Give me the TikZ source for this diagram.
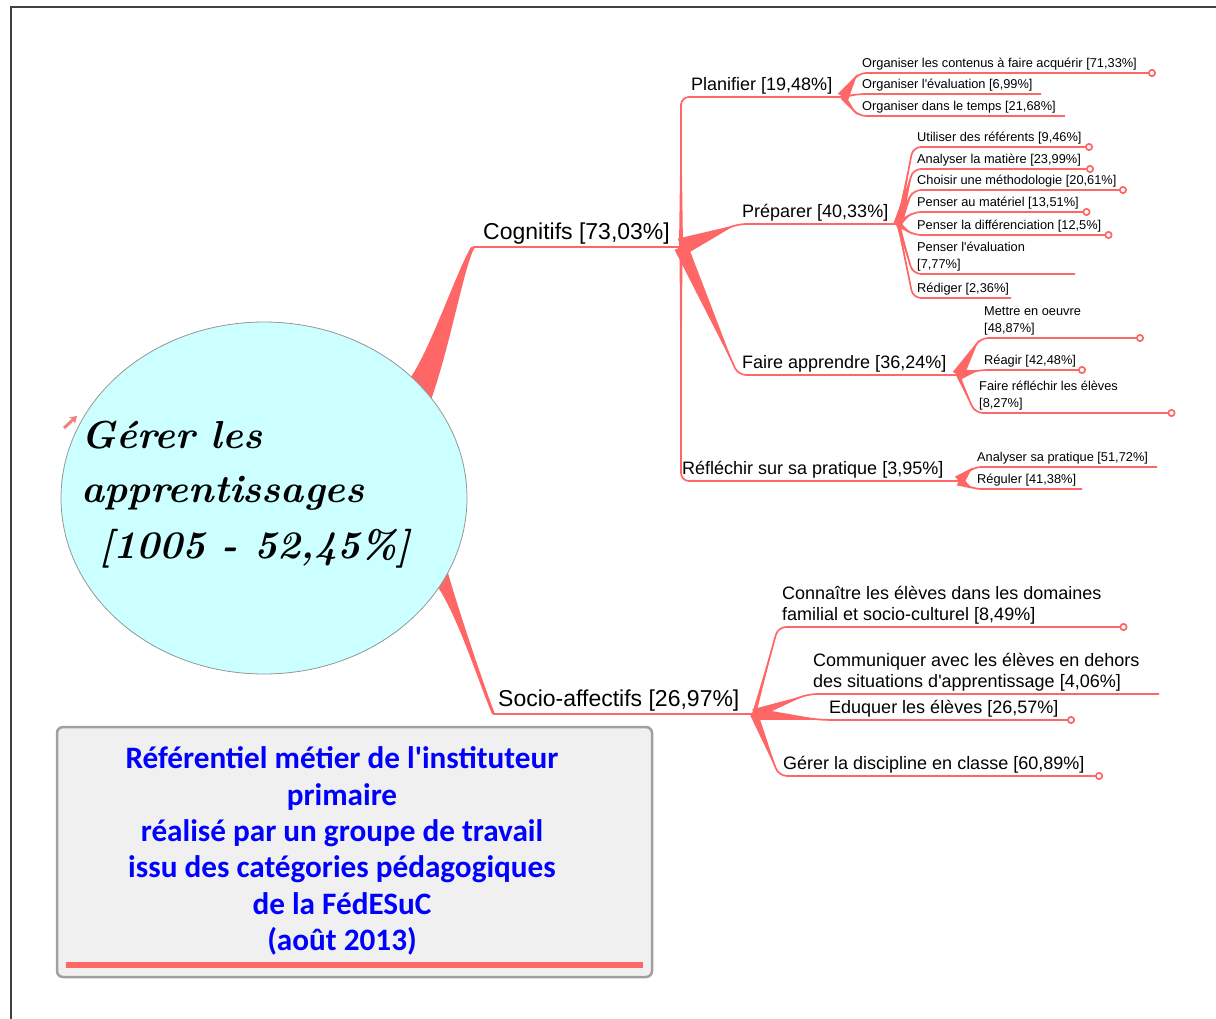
\documentclass[tikz,border=0pt]{standalone}
\usepackage{fontspec}
\newfontfamily\mapfont{Liberation Sans}
\newfontfamily\boxfont{Carlito}
\usepackage{tikz}
\usetikzlibrary{arrows.meta, calc, positioning, shapes.geometric, backgrounds}
\usepackage{xcolor}

\definecolor{mapred}{RGB}{255,102,102}
\definecolor{rootfill}{RGB}{204,255,255}
\definecolor{rootline}{RGB}{150,150,150}
\definecolor{boxfill}{RGB}{240,240,240}
\definecolor{boxline}{RGB}{160,160,160}
\definecolor{titleblue}{RGB}{0,0,255}
\definecolor{iconpink}{RGB}{240,128,128}

\tikzset{
  mainlbl/.style={anchor=south west, inner xsep=5pt, inner ysep=3pt, align=left,
    font=\mapfont\fontsize{23}{27}\selectfont},
  sublbl/.style={mainlbl, inner xsep=4pt, font=\mapfont\fontsize{18}{20.7}\selectfont},
  leaflbl/.style={mainlbl, inner xsep=4pt, font=\mapfont\fontsize{12.8}{17}\selectfont},
  rootlbl/.style={anchor=base west, font=\fontsize{39}{55}\selectfont\bfseries\itshape},
  mapline/.style={draw=mapred, line width=1.7pt, rounded corners=8pt},
  enddot/.style={-{Circle[open, length=8pt, width=8pt]}}
}

% tapered wedge: base at #1, pointing to #2, half width #3
\newcommand\mapwedge[3]{%
  \fill[mapred, line join=round] ($(#1)!#3!90:(#2)$) -- ($(#1)!0.95!(#2)$) -- ($(#1)!#3!-90:(#2)$) -- cycle;}

\begin{document}
\begin{tikzpicture}[x=1pt, y=-1pt]
  \useasboundingbox (0,0) rectangle (1216,1019);

  % Frame
  \draw[line width=1.5pt, black!75] (11,1019) -- (11,7) -- (1216,7);

  % Central topic
  \node[ellipse, draw=rootline, line width=0.8pt, fill=rootfill, minimum width=406pt,
    minimum height=352pt, inner sep=0pt] (root) at (264,498) {};
  \node[rootlbl] (ct1) at (78,448) {Gérer les};
  \node[rootlbl] (ct2) at (78,502) {apprentissages};
  \node[rootlbl] (ct3) at (96,558) {[1005 - 52,45\%]};
  \draw[iconpink, line width=3pt, -{Stealth[length=7pt, width=9pt]}] (64,428) -- (77,416);

  % Main branches
  \node[mainlbl, inner xsep=10pt] (cog) at (473,247) {Cognitifs [73,03\%]};
  \node[mainlbl] (soc) at (493,714) {Socio-affectifs [26,97\%]};
  \coordinate (cogJ) at (681,247);
  \coordinate (socJ) at (754,714);
  \coordinate (cogfoot) at (root.37);
  \coordinate (socfoot) at (root.-26);
  \begin{pgfonlayer}{background}
    \fill[mapred] ($(cogfoot)+(-9,-2)$) .. controls ($(cogfoot)+(11,-28)$) and ($(cog.south west)+(-18,28)$)
      .. ($(cog.south west)+(-2,0)$) -- ($(cog.south west)+(2,0)$)
      .. controls ($(cog.south west)+(-8,15)$) and ($(cogfoot)+(33,-38)$) .. ($(cogfoot)+(14,16)$) -- cycle;
    \fill[mapred] ($(socfoot)+(-10,-6)$) .. controls ($(socfoot)+(12,18)$) and ($(soc.south west)+(-16,-36)$)
      .. ($(soc.south west)+(-1,0)$) -- ($(soc.south west)+(2,0)$)
      .. controls ($(soc.south west)+(-9,-28)$) and ($(socfoot)+(16,22)$) .. ($(socfoot)+(6,-14)$) -- cycle;
  \end{pgfonlayer}
  \draw[mapline] (cog.south west) -- (cogJ);
  \draw[mapline] (soc.south west) -- (socJ);

  % Cognitifs
  \node[sublbl] (plan) at (687,97) {Planifier [19,48\%]};
  \node[sublbl] (prep) at (738,224) {Préparer [40,33\%]};
  \node[sublbl] (fa) at (738,375) {Faire apprendre [36,24\%]};
  \node[sublbl] (refl) at (678,481) {Réfléchir sur sa pratique [3,95\%]};
  \coordinate (planJ) at (843,97);
  \coordinate (prepJ) at (898,224);
  \coordinate (faJ) at (958,375);
  \coordinate (reflJ) at (959,481);
  \coordinate (planK) at (cogJ |- plan.south west);
  \coordinate (reflK) at (cogJ |- refl.south west);
  \draw[mapline] (cogJ) -- (planK) -- (planJ);
  \draw[mapline] (cogJ) -- (prep.south west) -- (prepJ);
  \draw[mapline] (cogJ) -- (fa.south west) -- (faJ);
  \draw[mapline] (cogJ) -- (reflK) -- (reflJ);
  \mapwedge{cogJ}{planK}{2pt}
  \mapwedge{cogJ}{prep.south west}{9pt}
  \mapwedge{cogJ}{fa.south west}{7pt}
  \mapwedge{cogJ}{reflK}{1.5pt}

  % Planifier
  \node[leaflbl] (pl1) at (858,73) {Organiser les contenus à faire acquérir [71,33\%]};
  \node[leaflbl] (pl2) at (858,94) {Organiser l'évaluation [6,99\%]};
  \node[leaflbl] (pl3) at (858,116) {Organiser dans le temps [21,68\%]};
  \coordinate (pl1end) at (1156,73);
  \coordinate (pl2end) at (1041,94);
  \coordinate (pl3end) at (1065,116);
  \draw[mapline, enddot] (planJ) -- (pl1.south west) -- (pl1end);
  \draw[mapline] (planJ) -- (pl2.south west) -- (pl2end);
  \draw[mapline] (planJ) -- (pl3.south west) -- (pl3end);
  \mapwedge{planJ}{pl1.south west}{6pt}
  \mapwedge{planJ}{pl2.south west}{1.5pt}
  \mapwedge{planJ}{pl3.south west}{3pt}

  % Preparer
  \node[leaflbl] (pr1) at (913,147) {Utiliser des référents [9,46\%]};
  \node[leaflbl] (pr2) at (913,169) {Analyser la matière [23,99\%]};
  \node[leaflbl] (pr3) at (913,190) {Choisir une méthodologie [20,61\%]};
  \node[leaflbl] (pr4) at (913,212) {Penser au matériel [13,51\%]};
  \node[leaflbl] (pr5) at (913,235) {Penser la différenciation [12,5\%]};
  \node[leaflbl] (pr6) at (913,274) {Penser l'évaluation\\{[7,77\%]}};
  \node[leaflbl] (pr7) at (913,298) {Rédiger [2,36\%]};
  \coordinate (pr1end) at (1093,147);
  \coordinate (pr2end) at (1094,169);
  \coordinate (pr3end) at (1127,190);
  \coordinate (pr4end) at (1090.5,212);
  \coordinate (pr5end) at (1112.5,235);
  \coordinate (pr6end) at (1075,274);
  \coordinate (pr7end) at (1011,298);
  \draw[mapline, enddot] (prepJ) -- (pr1.south west) -- (pr1end);
  \draw[mapline, enddot] (prepJ) -- (pr2.south west) -- (pr2end);
  \draw[mapline, enddot] (prepJ) -- (pr3.south west) -- (pr3end);
  \draw[mapline, enddot] (prepJ) -- (pr4.south west) -- (pr4end);
  \draw[mapline, enddot] (prepJ) -- (pr5.south west) -- (pr5end);
  \draw[mapline] (prepJ) -- (pr6.south west) -- (pr6end);
  \draw[mapline] (prepJ) -- (pr7.south west) -- (pr7end);
  \mapwedge{prepJ}{pr1.south west}{2pt}
  \mapwedge{prepJ}{pr2.south west}{4.5pt}
  \mapwedge{prepJ}{pr3.south west}{4pt}
  \mapwedge{prepJ}{pr4.south west}{3pt}
  \mapwedge{prepJ}{pr5.south west}{2.8pt}
  \mapwedge{prepJ}{pr6.south west}{2pt}
  \mapwedge{prepJ}{pr7.south west}{1pt}

  % Faire apprendre
  \node[leaflbl] (fa1) at (980,338) {Mettre en oeuvre\\{[48,87\%]}};
  \node[leaflbl] (fa2) at (980,370) {Réagir [42,48\%]};
  \node[leaflbl] (fa3) at (975,413) {Faire réfléchir les élèves\\{[8,27\%]}};
  \coordinate (fa1end) at (1144,338);
  \coordinate (fa2end) at (1086,370);
  \coordinate (fa3end) at (1175.5,413);
  \draw[mapline, enddot] (faJ) -- (fa1.south west) -- (fa1end);
  \draw[mapline, enddot] (faJ) -- (fa2.south west) -- (fa2end);
  \draw[mapline, enddot] (faJ) -- (fa3.south west) -- (fa3end);
  \mapwedge{faJ}{fa1.south west}{6pt}
  \mapwedge{faJ}{fa2.south west}{5.5pt}
  \mapwedge{faJ}{fa3.south west}{2pt}

  % Reflechir
  \node[leaflbl] (rf1) at (973,467) {Analyser sa pratique [51,72\%]};
  \node[leaflbl] (rf2) at (973,489) {Réguler [41,38\%]};
  \coordinate (rf1end) at (1157,467);
  \coordinate (rf2end) at (1082,489);
  \draw[mapline] (reflJ) -- (rf1.south west) -- (rf1end);
  \draw[mapline] (reflJ) -- (rf2.south west) -- (rf2end);
  \mapwedge{reflJ}{rf1.south west}{6pt}
  \mapwedge{reflJ}{rf2.south west}{5pt}

  % Socio-affectifs
  \node[sublbl] (so1) at (778,627) {Connaître les élèves dans les domaines\\familial et socio-culturel [8,49\%]};
  \node[sublbl] (so2) at (809,694) {Communiquer avec les élèves en dehors\\des situations d'apprentissage [4,06\%]};
  \node[sublbl] (so3) at (825,720) {Eduquer les élèves [26,57\%]};
  \node[sublbl] (so4) at (779,776) {Gérer la discipline en classe [60,89\%]};
  \coordinate (so1end) at (1127.5,627);
  \coordinate (so2end) at (1159,694);
  \coordinate (so3end) at (1075,720);
  \coordinate (so4end) at (1103,776);
  \draw[mapline, enddot] (socJ) -- (so1.south west) -- (so1end);
  \draw[mapline] (socJ) -- (so2.south west) -- (so2end);
  \draw[mapline, enddot] (socJ) -- (so3.south west) -- (so3end);
  \draw[mapline, enddot] (socJ) -- (so4.south west) -- (so4end);
  \mapwedge{socJ}{so1.south west}{2pt}
  \mapwedge{socJ}{so2.south west}{5pt}
  \mapwedge{socJ}{so3.south west}{6pt}
  \mapwedge{socJ}{so4.south west}{4pt}

  % Title box
  \node[draw=boxline, line width=2.5pt, fill=boxfill, rounded corners=6pt, minimum width=595pt,
    minimum height=250pt] (title) at (354.5,852) {};
  \node[align=center, text=titleblue, font=\boxfont\bfseries\fontsize{31.2}{36.4}\selectfont]
    (titletext) at (342,851) {Référentiel métier de l'instituteur\\primaire\\réalisé par un groupe de travail\\issu des catégories pédagogiques\\de la FédESuC\\(août 2013)};
  \draw[mapred, line width=6pt] ($(title.south west)+(10,-13)$) -- ($(title.south east)+(-10,-13)$);
\end{tikzpicture}
\end{document}
